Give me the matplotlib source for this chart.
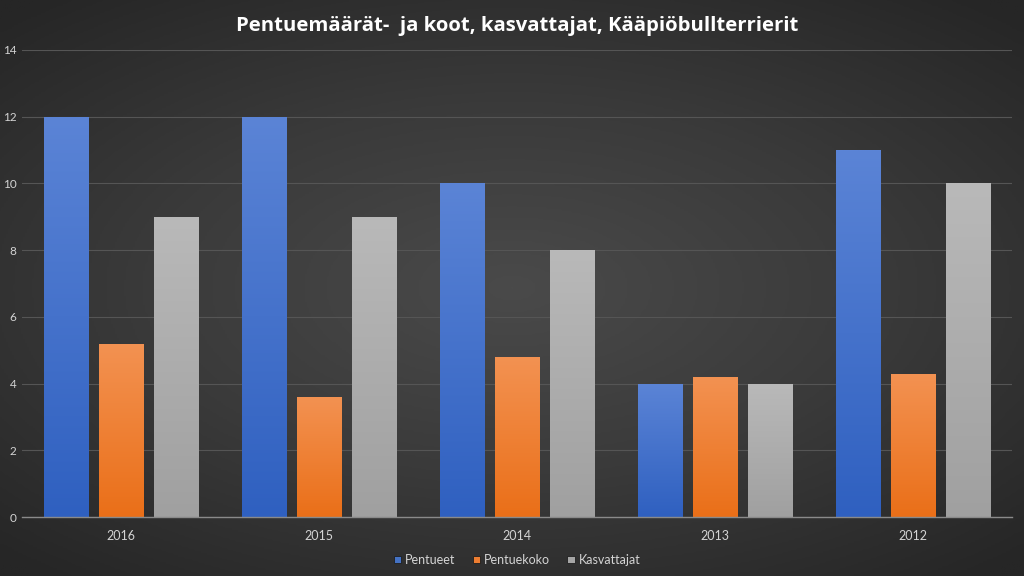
import numpy as np
import matplotlib.pyplot as plt
from matplotlib.colors import LinearSegmentedColormap

years = ['2016', '2015', '2014', '2013', '2012']
pentueet = [12, 12, 10, 4, 11]
pentuekoko = [5.2, 3.6, 4.8, 4.2, 4.3]
kasvattajat = [9, 9, 8, 4, 10]

plt.rcParams['font.family'] = ['Lato', 'DejaVu Sans']

fig = plt.figure(figsize=(10.24, 5.76), dpi=100)

# radial background
bg = fig.add_axes([0, 0, 1, 1])
yy, xx = np.mgrid[-1:1:300j, -1:1:500j]
r = np.sqrt((xx * 0.9) ** 2 + (yy * 1.0) ** 2)
bg_cmap = LinearSegmentedColormap.from_list('bg', ['#4a4a4a', '#3a3a3a', '#262626'])
bg.imshow(r, cmap=bg_cmap, aspect='auto', extent=[0, 1, 0, 1], vmin=0, vmax=1.3)
bg.set_axis_off()

ax = fig.add_axes([22 / 1024, 59 / 576, 990 / 1024, 467 / 576])
ax.patch.set_alpha(0)

x = np.arange(len(years))
w = 0.225
off = 0.278

series = [
    (pentueet, 'Pentueet', '#5b84d6', '#2f60c0', '#4472c4'),
    (pentuekoko, 'Pentuekoko', '#f39252', '#ea6f18', '#ed7d31'),
    (kasvattajat, 'Kasvattajat', '#b9b9b9', '#a0a0a0', '#a5a5a5'),
]

grad = np.linspace(1, 0, 256).reshape(-1, 1)
for i, (vals, name, top, bot, c) in enumerate(series):
    bars = ax.bar(x + (i - 1) * off, vals, w, color=c, label=name, zorder=3,
                  edgecolor='#1e1e1e', linewidth=0.6)
    cmap = LinearSegmentedColormap.from_list(name, [bot, top])
    for b in bars:
        bx, by = b.get_x(), b.get_y()
        bw, bh = b.get_width(), b.get_height()
        im = ax.imshow(grad, cmap=cmap, aspect='auto', extent=[bx, bx + bw, by, by + bh],
                       zorder=3.5, vmin=0, vmax=1)
        im.set_clip_path(b)

ax.set_xlim(-0.5, 4.5)
ax.set_ylim(0, 14)
ax.set_yticks(range(0, 15, 2))
ax.set_xticks(x)
ax.set_xticklabels(years)
ax.grid(axis='y', color='#555555', linewidth=0.8, zorder=0)
ax.set_axisbelow(True)
for s in ['top', 'right', 'left']:
    ax.spines[s].set_visible(False)
ax.spines['bottom'].set_color('#8a8a8a')
ax.spines['bottom'].set_linewidth(1.0)
ax.spines['bottom'].set_zorder(4)
ax.tick_params(axis='both', length=0, colors='#d4d4d4', labelsize=9)
ax.tick_params(axis='y', pad=4, labelsize=8.5)
ax.tick_params(axis='x', pad=9)

ax.set_title('Pentuemäärät-  ja koot, kasvattajat, Kääpiöbullterrierit',
             color='white', fontsize=14.6, fontweight='bold', pad=14,
             family=['Open Sans', 'DejaVu Sans'])

ax.legend(loc='upper center', bbox_to_anchor=(0.5, -0.055), ncol=3, frameon=False,
          fontsize=9, labelcolor='#d4d4d4', handlelength=0.6, handleheight=0.6,
          handletextpad=0.3, columnspacing=1.4)

fig.savefig('out.png', dpi=100)
